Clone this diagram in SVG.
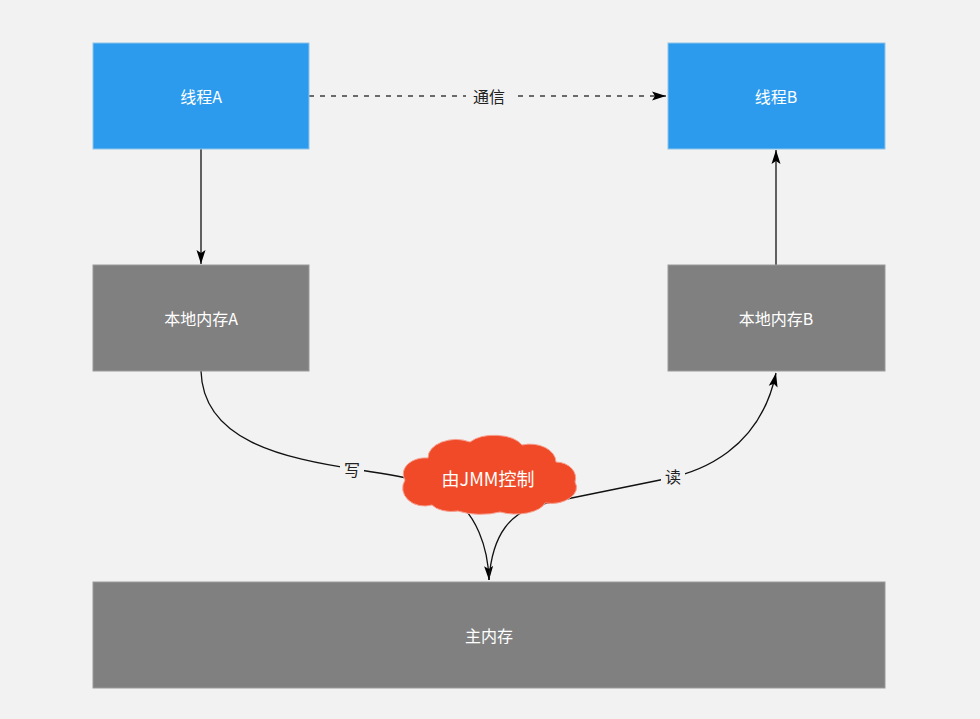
<svg xmlns="http://www.w3.org/2000/svg" width="980" height="719" viewBox="0 0 980 719">
<style>
.thread{fill:#2C9BEE;stroke:#8EC4E8;stroke-width:1}
.mem{fill:#808080;stroke:#9A9A9A;stroke-width:1}
.nt{fill:#ffffff;font-family:"Noto Sans CJK SC","Noto Sans",sans-serif;font-size:16px;text-anchor:middle;dominant-baseline:central}
.lt{fill:#222;font-family:"Noto Sans CJK SC","Noto Sans",sans-serif;font-size:16px;text-anchor:middle;dominant-baseline:central}
.ln{fill:none;stroke:#111;stroke-width:1.3}
</style>
<defs>
<marker id="ah" viewBox="0 0 14 10" refX="14" refY="5" markerWidth="14" markerHeight="10" markerUnits="userSpaceOnUse" orient="auto">
<path d="M0,0.5 L14,5 L0,9.5 L3,5 Z" fill="#000"/>
</marker>
</defs>
<rect width="980" height="719" fill="#F2F2F2"/>
<g id="connectors">
<line x1="309" y1="96" x2="666" y2="96" stroke="#6a6a6a" stroke-dasharray="5,6" stroke-width="2" marker-end="url(#ah)"/>
<rect x="466" y="85" width="46" height="22" fill="#F2F2F2"/>
<text class="lt" x="489" y="96">通信</text>
<line class="ln" x1="201" y1="149" x2="201" y2="264" marker-end="url(#ah)"/>
<line class="ln" x1="776" y1="265" x2="776" y2="150" marker-end="url(#ah)"/>
<path class="ln" d="M201,371 C203,440 280,458 360,470 S430,485 455,500 C475,515 488,545 489,580" marker-end="url(#ah)"/>
<path class="ln" d="M489,580 C492,535 510,510 547,503 C590,494 630,486 665,479 S760,450 776,373" marker-end="url(#ah)"/>
<rect x="340" y="458" width="24" height="22" fill="#F2F2F2"/>
<text class="lt" x="352" y="469">写</text>
<rect x="661" y="465" width="24" height="22" fill="#F2F2F2"/>
<text class="lt" x="673" y="476">读</text>
</g>
<g id="threadA"><rect class="thread" x="93" y="43" width="216" height="106"/><text class="nt" x="201" y="96">线程A</text></g>
<g id="threadB"><rect class="thread" x="668" y="43" width="217" height="106"/><text class="nt" x="776" y="96">线程B</text></g>
<g id="localA"><rect class="mem" x="93" y="265" width="216" height="106"/><text class="nt" x="201" y="318">本地内存A</text></g>
<g id="localB"><rect class="mem" x="668" y="265" width="217" height="106"/><text class="nt" x="776" y="318">本地内存B</text></g>
<g id="main"><rect class="mem" x="93" y="582" width="792" height="106"/><text class="nt" x="489" y="635">主内存</text></g>
<g id="jmm">
<path d="M432,505 A22,18 0 0 1 405,480 A22,16 0 0 1 428,458 A28,18 0 0 1 470,442 A30,16 0 0 1 522,445 A26,18 0 0 1 556,462 A20,16 0 0 1 575,482 A26,16 0 0 1 545,503 A30,14 0 0 1 500,512 A35,14 0 0 1 458,511 A22,12 0 0 1 432,505 Z" fill="#F04A28" stroke="#F6A090" stroke-width="1"/>
<text class="nt" x="488" y="478" style="font-size:18px">由JMM控制</text>
</g>
</svg>
